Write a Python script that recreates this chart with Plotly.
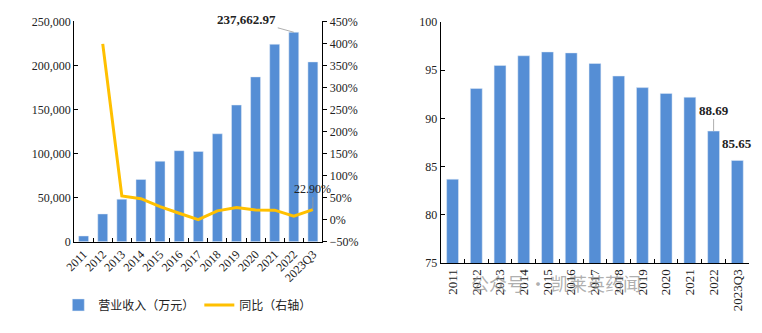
import plotly.graph_objects as go

W, H = 762, 333

categories = ["2011", "2012", "2013", "2014", "2015", "2016", "2017", "2018",
              "2019", "2020", "2021", "2022", "2023Q3"]
revenue = [6500, 31500, 48200, 70600, 91300, 103300, 102400, 122500,
           155100, 187000, 224000, 237662.97, 204000]
yoy = [None, 399, 54, 47.5, 29.5, 14.5, 0, 20, 27.5, 22, 21.5, 8, 22.90]
ratio = [83.7, 93.1, 95.5, 96.5, 96.9, 96.8, 95.7, 94.4, 93.2, 92.6, 92.2, 88.69, 85.65]

BAR = "#558ED5"
LINE = "#FFC000"
SERIF = "Liberation Serif, Times New Roman, serif"
CJK = "Noto Sans CJK SC, sans-serif"

def px_x(a, b):
    return [a / W, b / W]

def px_y(top, bottom):
    return [(H - bottom) / H, (H - top) / H]

fig = go.Figure()
fig.add_trace(go.Bar(x=categories, y=revenue, name="营业收入（万元）", marker_color=BAR,
                     width=0.52, xaxis="x", yaxis="y"))
fig.add_trace(go.Scatter(x=categories, y=yoy, name="同比（右轴）", mode="lines",
                         line=dict(color=LINE, width=3), xaxis="x", yaxis="y2"))
fig.add_trace(go.Bar(x=categories, y=ratio, showlegend=False, marker_color=BAR,
                     width=0.5, xaxis="x2", yaxis="y3"))

axis_common = dict(showgrid=False, zeroline=False, showline=True, linecolor="black",
                   linewidth=1, tickcolor="black", ticklen=4)
tf12 = dict(family=SERIF, size=12, color="#222")
tf13 = dict(family=SERIF, size=13, color="#222")

n = len(categories)
fig.update_layout(
    width=W, height=H, margin=dict(l=0, r=0, t=0, b=0),
    paper_bgcolor="white", plot_bgcolor="white",
    xaxis=dict(domain=px_x(64, 316), anchor="y", type="category", tickangle=-45,
               range=[-0.5, n - 0.5], ticks="inside", tickson="boundaries",
               tickfont=tf12, **axis_common),
    yaxis=dict(domain=px_y(15, 245), anchor="x", range=[0, 250000], dtick=50000,
               tickformat=",", ticks="inside", tickfont=tf12, **axis_common),
    yaxis2=dict(overlaying="y", side="right", anchor="x", range=[-50, 450], dtick=50,
                ticksuffix="%", ticks="outside", tickfont=tf12, **axis_common),
    xaxis2=dict(domain=px_x(436, 749), anchor="y3", type="category", tickangle=-90,
                range=[-0.5, n - 0.5], ticks="inside", tickson="boundaries",
                tickfont=tf13, **axis_common),
    yaxis3=dict(domain=px_y(15.7, 267.3), anchor="x2", range=[75, 100], dtick=5,
                ticks="inside", tickfont=tf12, **axis_common),
    legend=dict(orientation="h", x=48 / W, y=(H - 311) / H, xanchor="left", yanchor="middle",
                font=dict(family=CJK, size=12, color="#222"), itemwidth=30,
                tracegroupgap=0, bgcolor="rgba(0,0,0,0)"),
)

fig.add_annotation(x=11, y=revenue[11], xref="x", yref="y",
                   text="<b>237,662.97</b>", showarrow=True, arrowhead=0, arrowwidth=0.8,
                   arrowcolor="#999", ax=-47, ay=-13,
                   font=dict(family=SERIF, size=13, color="#222"))
fig.add_annotation(x=12, y=yoy[12], xref="x", yref="y2",
                   text="22.90%", showarrow=True, arrowhead=0, arrowwidth=0.8,
                   arrowcolor="#999", ax=0, ay=-21,
                   font=dict(family=SERIF, size=12, color="#222"))
fig.add_annotation(x=11, y=ratio[11], xref="x2", yref="y3",
                   text="<b>88.69</b>", showarrow=True, arrowhead=0, arrowwidth=0.8,
                   arrowcolor="#999", ax=0, ay=-21,
                   font=dict(family=SERIF, size=13, color="#222"))
fig.add_annotation(x=12, y=ratio[12], xref="x2", yref="y3",
                   text="<b>85.65</b>", showarrow=False, yanchor="bottom", yshift=7,
                   font=dict(family=SERIF, size=13, color="#222"))
fig.add_annotation(x=641 / W, y=(H - 304) / H, xref="paper", yref="paper",
                   text="公众号 · 凯莱英药闻", showarrow=False,
                   font=dict(family=CJK, size=18, color="rgba(140,140,140,0.7)"))

fig.write_html("out.html")
